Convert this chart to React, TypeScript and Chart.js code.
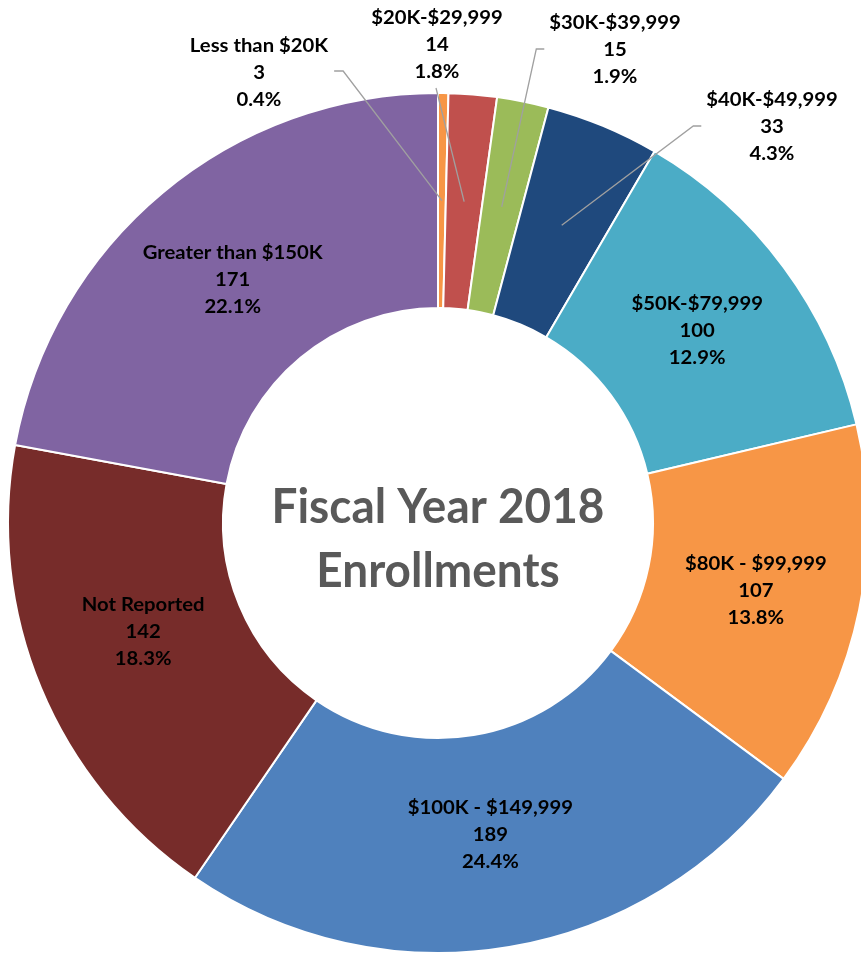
import React, { useEffect, useRef } from "react";
import { Chart, registerables } from "chart.js";

Chart.register(...registerables);

// ---- data ----
const categories = [
  "Less than $20K",
  "$20K-$29,999",
  "$30K-$39,999",
  "$40K-$49,999",
  "$50K-$79,999",
  "$80K - $99,999",
  "$100K - $149,999",
  "Not Reported",
  "Greater than $150K",
];
const enrollments = [3, 14, 15, 33, 100, 107, 189, 142, 171];
const sliceColors = [
  "#F79646",
  "#C0504D",
  "#9BBB59",
  "#1F497D",
  "#4BACC6",
  "#F79646",
  "#4F81BD",
  "#772C2A",
  "#8064A2",
];
const centerTitle = ["Fiscal Year 2018", "Enrollments"];

// ---- label placement (styling, not data) ----
type Outside = { dx: number; dy: number; leader: "right" | "left" | "below" };
const outsideLabels: Record<number, Outside> = {
  0: { dx: -179, dy: -450, leader: "right" },
  1: { dx: -1, dy: -478, leader: "below" },
  2: { dx: 177, dy: -473, leader: "left" },
  3: { dx: 334, dy: -396, leader: "left" },
};
const insideNudge: Record<number, [number, number]> = {
  5: [2, 3],
  6: [-1, -6],
  7: [3, -15],
  8: [1, 5],
};

const LABEL_FONT = "bold 19px Lato";
const LABEL_REF_TEXT = "Greater than $150K";
const LABEL_REF_WIDTH = 180;
const LINE_H = 27;
const TITLE_FONT = "bold 47px Lato";
const TITLE_REF_WIDTH = 333;

function pct(i: number) {
  const total = enrollments.reduce((a, b) => a + b, 0);
  return ((enrollments[i] / total) * 100).toFixed(1) + "%";
}

function drawScaled(ctx: CanvasRenderingContext2D, text: string, x: number, y: number, sx: number) {
  ctx.save();
  ctx.translate(x, y);
  ctx.scale(sx, 1);
  ctx.fillText(text, 0, 0);
  ctx.restore();
}

const labelPlugin = {
  id: "sliceLabels",
  afterDatasetsDraw(chart: any) {
    const ctx: CanvasRenderingContext2D = chart.ctx;
    const meta = chart.getDatasetMeta(0);
    ctx.save();
    ctx.font = LABEL_FONT;
    const sx = LABEL_REF_WIDTH / ctx.measureText(LABEL_REF_TEXT).width;
    ctx.textAlign = "center";
    ctx.textBaseline = "middle";
    let cx0 = 0, cy0 = 0;
    meta.data.forEach((arc: any, i: number) => {
      const p = arc.getProps(["x", "y", "startAngle", "endAngle", "innerRadius", "outerRadius"], true);
      cx0 = p.x; cy0 = p.y;
      const mid = (p.startAngle + p.endAngle) / 2;
      const r = (p.innerRadius + p.outerRadius) / 2;
      const px = p.x + Math.cos(mid) * r;
      const py = p.y + Math.sin(mid) * r;
      const lines = [categories[i], String(enrollments[i]), pct(i)];
      const o = outsideLabels[i];
      let lx: number, ly: number;
      if (o) {
        lx = p.x + o.dx;
        ly = p.y + o.dy;
        ctx.font = LABEL_FONT;
        const w = Math.max(...lines.map((l) => ctx.measureText(l).width)) * sx;
        ctx.strokeStyle = "#A0A0A0";
        ctx.lineWidth = 1.3;
        ctx.beginPath();
        if (o.leader === "right") {
          const s = lx + w / 2 + 6;
          ctx.moveTo(s, ly - 2);
          ctx.lineTo(s + 9, ly - 2);
        } else if (o.leader === "left") {
          const s = lx - w / 2 - 5;
          ctx.moveTo(s, ly - 1);
          ctx.lineTo(s - 8, ly - 1);
        } else {
          ctx.moveTo(lx - 1, ly + LINE_H + 16);
        }
        ctx.lineTo(px, py);
        ctx.stroke();
      } else {
        const n = insideNudge[i] || [0, 0];
        lx = px + n[0];
        ly = py + n[1];
      }
      ctx.fillStyle = "#000000";
      ctx.font = LABEL_FONT;
      lines.forEach((t, k) => drawScaled(ctx, t, lx, ly + (k - 1) * LINE_H, sx));
    });
    // center title
    ctx.font = TITLE_FONT;
    ctx.fillStyle = "#595959";
    ctx.textBaseline = "alphabetic";
    const tsx = TITLE_REF_WIDTH / ctx.measureText(centerTitle[0]).width;
    drawScaled(ctx, centerTitle[0], cx0, cy0 + 0, tsx);
    drawScaled(ctx, centerTitle[1], cx0, cy0 + 64, tsx);
    ctx.restore();
  },
};

export default function App() {
  const ref = useRef<HTMLCanvasElement | null>(null);
  useEffect(() => {
    if (!ref.current) return;
    document.body.style.overflow = "hidden";
    const chart = new Chart(ref.current, {
      type: "doughnut",
      data: {
        labels: categories,
        datasets: [
          {
            data: enrollments,
            backgroundColor: sliceColors,
            borderColor: "#FFFFFF",
            borderWidth: 2,
            hoverOffset: 0,
          },
        ],
      },
      options: {
        responsive: false,
        animation: false,
        cutout: "50%",
        layout: { padding: { left: 7, right: 7, top: 92, bottom: 2 } },
        plugins: {
          legend: { display: false },
          tooltip: { enabled: false },
          title: { display: false },
        },
        events: [],
      },
      plugins: [labelPlugin],
    });
    return () => chart.destroy();
  }, []);
  return (
    <div style={{ position: "absolute", left: 0, top: 0, width: 861, height: 956, overflow: "hidden", background: "#FFFFFF" }}>
      <canvas ref={ref} width={876} height={956} style={{ display: "block" }} />
    </div>
  );
}
